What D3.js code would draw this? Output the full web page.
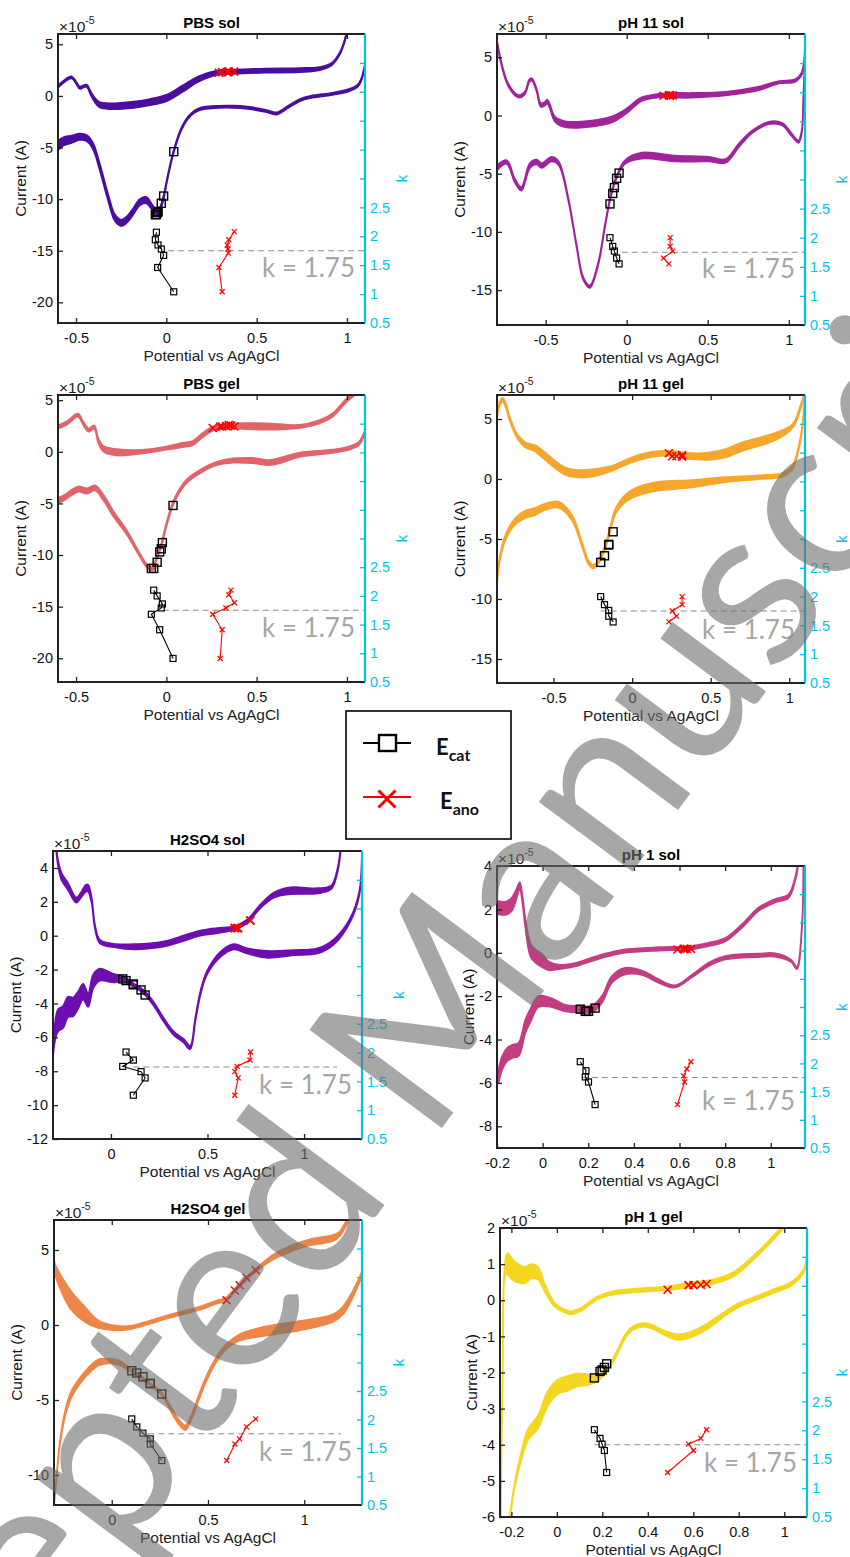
<!DOCTYPE html>
<html>
<head>
<meta charset="utf-8">
<script src="https://cdn.jsdelivr.net/npm/d3@7"></script>
<style>
body { margin: 0; background: #fff; }
svg { display: block; }
text { font-family: "Liberation Sans", Arial, sans-serif; }
</style>
</head>
<body>
<script>
// CV branches: [potential (V), current (x1e-5 A), band spread of the overlaid cycles]
// k series: catE / catK / catI and anoE / anoK / anoI share the same order

// ---- PBS sol
const pbsSolFwd = [[-0.60,0.9,0.2],[-0.56,1.5,0.2],[-0.525,1.8,0.2],[-0.50,1.3,0.2],[-0.48,0.8,0.2],[-0.455,0.95,0.2],[-0.44,0.97,0.2],[-0.42,0.3,0.3],[-0.40,-0.3,0.4],[-0.37,-0.85,0.5],[-0.31,-1.0,0.55],[-0.18,-0.85,0.6],[-0.09,-0.6,0.6],[0,-0.2,0.6],[0.09,0.7,0.6],[0.18,1.65,0.5],[0.28,2.25,0.4],[0.37,2.35,0.4],[0.55,2.45,0.4],[0.74,2.5,0.4],[0.85,2.65,0.3],[0.92,3.15,0.2],[0.96,4.1,0.2],[0.985,5.2,0.2],[1.0,6.2,0.2]];
const pbsSolRev = [[1.10,3.0,0.2],[1.08,1.6,0.2],[1.06,1.0,0.2],[1.01,0.55,0.2],[0.92,0.2,0.2],[0.80,-0.1,0.2],[0.74,-0.4,0.2],[0.68,-1.0,0.2],[0.61,-1.7,0.2],[0.55,-1.45,0.2],[0.45,-1.15,0.2],[0.37,-1.05,0.2],[0.25,-1.1,0.2],[0.18,-1.3,0.2],[0.13,-1.9,0.2],[0.083,-3.2,0.2],[0.041,-5.35,0.2],[0.009,-7.7,0.25],[-0.018,-10.0,0.3],[-0.046,-11.3,0.4],[-0.074,-10.9,0.5],[-0.11,-10.1,0.6],[-0.147,-10.3,0.6],[-0.184,-11.2,0.6],[-0.22,-12.0,0.6],[-0.25,-12.3,0.6],[-0.285,-11.8,0.6],[-0.32,-10.0,0.6],[-0.37,-6.8,0.6],[-0.405,-4.9,0.6],[-0.44,-4.1,0.6],[-0.48,-3.95,0.6],[-0.525,-4.2,0.7],[-0.57,-4.4,0.8],[-0.60,-4.8,0.9]];
const pbsSolCatE = [-0.055,-0.061,-0.046,-0.028,-0.015,-0.048,0.041];
const pbsSolCatK = [2.07,1.94,1.85,1.78,1.67,1.46,1.04];
const pbsSolCatI = [-11.5,-11.5,-11.2,-10.4,-9.7,-11.3,-5.4];
const pbsSolAnoE = [0.376,0.346,0.337,0.341,0.343,0.291,0.309];
const pbsSolAnoK = [2.08,1.94,1.85,1.78,1.71,1.46,1.04];
const pbsSolAnoI = [2.35,2.35,2.3,2.35,2.3,2.25,2.3];
const pbsSolDash = [0.01,1.1];

// ---- pH 11 sol
const ph11SolFwd = [[-0.80,6.3,0.2],[-0.77,4.3,0.2],[-0.73,2.6,0.2],[-0.67,1.65,0.2],[-0.63,1.9,0.2],[-0.60,3.0,0.2],[-0.585,3.1,0.2],[-0.556,2.2,0.2],[-0.53,0.9,0.3],[-0.505,1.0,0.3],[-0.49,1.2,0.3],[-0.474,0.8,0.3],[-0.443,-0.3,0.4],[-0.38,-0.75,0.5],[-0.216,-0.7,0.5],[-0.093,-0.35,0.5],[-0.01,0.3,0.4],[0.093,1.4,0.3],[0.196,1.7,0.3],[0.30,1.73,0.4],[0.40,1.73,0.4],[0.61,1.87,0.3],[0.81,2.3,0.3],[0.94,2.85,0.2],[1.04,3.0,0.2],[1.08,3.6,0.2],[1.10,5.8,0.2]];
const ph11SolRev = [[1.10,4.9,0.2],[1.09,1.5,0.2],[1.08,-1.4,0.2],[1.06,-2.25,0.2],[1.02,-1.7,0.2],[0.96,-0.75,0.2],[0.875,-0.65,0.2],[0.77,-1.45,0.2],[0.69,-2.6,0.3],[0.61,-3.9,0.3],[0.505,-3.75,0.4],[0.30,-3.7,0.5],[0.093,-3.45,0.5],[-0.01,-4.0,0.3],[-0.05,-4.9,0.2],[-0.093,-6.6,0.2],[-0.134,-9.5,0.2],[-0.175,-12.7,0.2],[-0.227,-14.7,0.2],[-0.268,-14.0,0.2],[-0.309,-11.2,0.2],[-0.36,-7.2,0.2],[-0.42,-4.1,0.3],[-0.463,-3.75,0.4],[-0.525,-4.3,0.4],[-0.556,-4.0,0.4],[-0.597,-4.3,0.4],[-0.65,-6.3,0.3],[-0.69,-5.6,0.3],[-0.74,-4.0,0.3],[-0.80,-4.5,0.4]];
const ph11SolCatE = [-0.103,-0.086,-0.076,-0.062,-0.047];
const ph11SolCatK = [2.0,1.85,1.77,1.65,1.55];
const ph11SolCatI = [-7.6,-6.7,-6.2,-5.4,-4.95];
const ph11SolAnoE = [0.268,0.268,0.284,0.227,0.26];
const ph11SolAnoK = [2.0,1.85,1.77,1.65,1.55];
const ph11SolAnoI = [1.73,1.73,1.73,1.7,1.73];
const ph11SolDash = [-0.03,1.1];

// ---- PBS gel
const pbsGelFwd = [[-0.60,2.4,0.3],[-0.55,2.8,0.3],[-0.49,3.55,0.3],[-0.46,2.75,0.3],[-0.43,2.1,0.3],[-0.40,2.4,0.3],[-0.377,1.1,0.4],[-0.35,0.3,0.5],[-0.276,-0.05,0.6],[-0.18,-0.05,0.4],[-0.09,0.1,0.3],[0,0.35,0.3],[0.09,0.65,0.4],[0.147,0.85,0.4],[0.20,1.6,0.4],[0.257,2.25,0.4],[0.31,2.4,0.4],[0.37,2.5,0.5],[0.55,2.45,0.6],[0.735,2.45,0.3],[0.846,2.9,0.3],[0.92,3.55,0.3],[0.99,4.85,0.3],[1.04,5.6,0.3]];
const pbsGelRev = [[1.10,1.95,0.3],[1.066,0.8,0.3],[1.01,0.35,0.3],[0.92,0.05,0.3],[0.735,-0.3,0.4],[0.64,-0.8,0.5],[0.57,-1.05,0.5],[0.478,-0.85,0.5],[0.37,-0.85,0.4],[0.276,-1.15,0.3],[0.184,-1.95,0.3],[0.11,-2.9,0.3],[0.064,-4.05,0.3],[0.033,-5.2,0.3],[0,-7.1,0.3],[-0.028,-9.05,0.3],[-0.055,-10.35,0.3],[-0.074,-11.3,0.3],[-0.10,-11.2,0.3],[-0.147,-10.0,0.3],[-0.22,-7.8,0.4],[-0.294,-6.0,0.5],[-0.35,-4.4,0.5],[-0.395,-3.5,0.5],[-0.44,-3.8,0.5],[-0.487,-3.6,0.5],[-0.533,-4.05,0.5],[-0.57,-4.5,0.5],[-0.60,-4.7,0.5]];
const pbsGelCatE = [-0.07,-0.051,-0.022,-0.028,-0.083,-0.037,0.037];
const pbsGelCatK = [2.1,2.0,1.86,1.79,1.68,1.41,0.91];
const pbsGelCatI = [-11.3,-10.7,-8.8,-9.4,-11.3,-9.7,-5.2];
const pbsGelAnoE = [0.358,0.346,0.377,0.33,0.257,0.309,0.298];
const pbsGelAnoK = [2.1,2.02,1.88,1.79,1.68,1.41,0.91];
const pbsGelAnoI = [2.55,2.6,2.45,2.5,2.3,2.45,2.45];
const pbsGelDash = [-0.02,1.1];

// ---- pH 11 gel
const ph11GelFwd = [[-0.86,5.1,0.3],[-0.845,6.2,0.3],[-0.824,6.6,0.3],[-0.80,6.0,0.3],[-0.786,5.3,0.3],[-0.73,3.55,0.3],[-0.68,2.85,0.4],[-0.616,2.55,0.5],[-0.563,2.0,0.6],[-0.49,1.2,0.6],[-0.425,0.65,0.6],[-0.36,0.45,0.6],[-0.255,0.5,0.6],[-0.127,0.9,0.4],[0,1.6,0.4],[0.127,2.05,0.4],[0.234,2.15,0.4],[0.38,1.9,0.5],[0.488,1.9,0.6],[0.594,2.15,0.7],[0.70,2.7,0.7],[0.913,3.55,0.6],[1.02,4.4,0.3],[1.07,5.9,0.3],[1.10,7.2,0.3]];
const ph11GelRev = [[1.10,6.8,0.3],[1.08,4.0,0.3],[1.06,2.6,0.3],[1.02,0.95,0.3],[0.955,0.35,0.3],[0.807,0.15,0.3],[0.594,-0.05,0.4],[0.38,-0.4,0.6],[0.17,-0.6,0.7],[0.042,-1.0,0.7],[-0.042,-1.6,0.6],[-0.106,-2.7,0.4],[-0.138,-4.1,0.3],[-0.17,-5.6,0.3],[-0.212,-6.85,0.3],[-0.244,-7.3,0.3],[-0.276,-7.0,0.3],[-0.318,-5.5,0.3],[-0.382,-3.25,0.4],[-0.467,-2.15,0.5],[-0.552,-2.3,0.5],[-0.616,-2.7,0.6],[-0.68,-2.95,0.6],[-0.743,-3.5,0.5],[-0.807,-4.9,0.4],[-0.84,-6.5,0.3],[-0.86,-8.5,0.3]];
const ph11GelCatE = [-0.2,-0.176,-0.149,-0.149,-0.121];
const ph11GelCatK = [2.0,1.86,1.76,1.66,1.56];
const ph11GelCatI = [-6.95,-6.4,-5.5,-5.45,-4.4];
const ph11GelAnoE = [0.318,0.318,0.255,0.282,0.234];
const ph11GelAnoK = [2.0,1.86,1.75,1.66,1.56];
const ph11GelAnoI = [2.0,1.85,1.9,1.9,2.15];
const ph11GelDash = [-0.2,1.1];

// ---- H2SO4 sol
const h2so4SolFwd = [[-0.283,5.1,0.2],[-0.274,4.3,0.3],[-0.256,3.5,0.4],[-0.222,2.9,0.4],[-0.18,2.1,0.3],[-0.155,2.4,0.3],[-0.13,2.8,0.4],[-0.118,2.8,0.4],[-0.10,2.1,0.3],[-0.083,0.55,0.2],[-0.057,-0.35,0.2],[0.03,-0.6,0.2],[0.116,-0.65,0.3],[0.203,-0.6,0.3],[0.29,-0.45,0.3],[0.376,-0.15,0.3],[0.463,0.15,0.3],[0.55,0.3,0.3],[0.636,0.45,0.2],[0.705,0.85,0.2],[0.775,1.75,0.2],[0.844,2.4,0.3],[0.93,2.65,0.4],[1.07,2.65,0.3],[1.14,2.85,0.2],[1.17,3.7,0.2],[1.19,5.1,0.2]];
const h2so4SolRev = [[1.30,4.9,0.2],[1.286,2.5,0.2],[1.24,0.95,0.2],[1.156,-0.35,0.3],[1.07,-0.9,0.3],[0.948,-1.0,0.3],[0.81,-1.1,0.4],[0.705,-0.9,0.3],[0.636,-0.65,0.3],[0.567,-1.1,0.3],[0.497,-2.2,0.2],[0.463,-3.4,0.2],[0.437,-4.95,0.2],[0.41,-6.6,0.2],[0.376,-6.2,0.2],[0.324,-5.75,0.2],[0.272,-4.95,0.2],[0.22,-4.0,0.2],[0.168,-3.3,0.2],[0.116,-2.9,0.2],[0.064,-2.55,0.3],[0.012,-2.5,0.5],[-0.057,-2.3,0.7],[-0.092,-2.7,0.8],[-0.118,-3.8,0.8],[-0.144,-3.3,0.9],[-0.17,-3.8,1.0],[-0.196,-4.2,1.1],[-0.222,-4.2,1.2],[-0.248,-4.8,1.3],[-0.274,-5.0,1.3],[-0.29,-5.7,1.0],[-0.30,-6.9,0.5]];
const h2so4SolCatE = [0.078,0.116,0.061,0.156,0.177,0.116];
const h2so4SolCatK = [2.01,1.87,1.76,1.67,1.56,1.26];
const h2so4SolCatI = [-2.65,-2.85,-2.55,-3.2,-3.5,-2.9];
const h2so4SolAnoE = [0.723,0.72,0.653,0.641,0.659,0.641];
const h2so4SolAnoK = [2.01,1.87,1.76,1.67,1.56,1.26];
const h2so4SolAnoI = [0.9,0.9,0.45,0.45,0.45,0.45];
const h2so4SolDash = [0.116,1.17];

// ---- pH 1 sol
const ph1SolFwd = [[-0.20,2.1,0.6],[-0.163,2.05,0.6],[-0.134,2.25,0.6],[-0.112,2.8,0.4],[-0.10,3.1,0.3],[-0.09,2.6,0.3],[-0.076,1.4,0.4],[-0.054,0.15,0.6],[-0.032,-0.15,0.6],[-0.003,-0.35,0.6],[0.026,-0.6,0.4],[0.07,-0.65,0.2],[0.143,-0.55,0.15],[0.216,-0.3,0.15],[0.289,-0.08,0.15],[0.362,0.08,0.15],[0.508,0.18,0.15],[0.654,0.23,0.15],[0.727,0.38,0.15],[0.80,0.6,0.15],[0.873,1.23,0.15],[0.946,2.0,0.15],[1.019,2.4,0.15],[1.077,2.6,0.15],[1.107,3.4,0.15],[1.12,4.1,0.15]];
const ph1SolRev = [[1.143,4.1,0.1],[1.136,1.1,0.1],[1.114,-0.7,0.1],[1.09,-0.38,0.1],[1.019,-0.1,0.15],[0.946,-0.12,0.15],[0.80,-0.23,0.15],[0.727,-0.54,0.15],[0.654,-1.08,0.1],[0.58,-1.55,0.1],[0.508,-1.3,0.15],[0.435,-0.92,0.2],[0.362,-0.85,0.3],[0.304,-1.23,0.3],[0.26,-2.15,0.3],[0.216,-2.6,0.3],[0.172,-2.6,0.3],[0.099,-2.55,0.3],[0.04,-2.3,0.4],[-0.018,-2.25,0.5],[-0.054,-2.9,0.6],[-0.076,-3.4,0.6],[-0.105,-4.45,0.6],[-0.134,-4.55,0.6],[-0.156,-4.7,0.6],[-0.178,-5.1,0.6],[-0.193,-5.7,0.6]];
const ph1SolCatE = [0.165,0.19,0.187,0.201,0.23];
const ph1SolCatK = [2.03,1.87,1.76,1.67,1.27];
const ph1SolCatI = [-2.6,-2.7,-2.7,-2.7,-2.55];
const ph1SolAnoE = [0.65,0.632,0.618,0.622,0.591];
const ph1SolAnoK = [2.03,1.9,1.78,1.67,1.27];
const ph1SolAnoI = [0.18,0.18,0.18,0.18,0.15];
const ph1SolDash = [0.172,1.15];

// ---- H2SO4 gel
const h2so4GelFwd = [[-0.308,5.0,0.3],[-0.296,3.8,0.6],[-0.26,2.7,1.0],[-0.209,1.6,1.2],[-0.139,0.7,1.0],[-0.07,0.05,0.5],[0.017,-0.2,0.3],[0.104,-0.15,0.2],[0.19,0.15,0.2],[0.278,0.5,0.2],[0.365,0.8,0.2],[0.452,1.1,0.2],[0.539,1.5,0.2],[0.59,1.7,0.2],[0.643,2.35,0.2],[0.696,3.05,0.2],[0.748,3.65,0.2],[0.835,4.5,0.3],[0.922,5.05,0.4],[1.026,5.5,0.4],[1.148,5.8,0.4],[1.183,6.05,0.3],[1.226,7.0,0.3],[1.26,8.0,0.3]];
const h2so4GelRev = [[1.296,3.3,0.3],[1.252,2.05,0.4],[1.20,0.95,0.5],[1.148,0.45,0.5],[0.974,-0.05,0.6],[0.80,-0.4,0.6],[0.661,-0.85,0.4],[0.59,-1.5,0.3],[0.539,-2.4,0.3],[0.487,-3.7,0.3],[0.452,-4.85,0.3],[0.417,-6.05,0.3],[0.383,-6.85,0.3],[0.357,-6.6,0.3],[0.322,-5.95,0.3],[0.26,-4.6,0.2],[0.174,-3.7,0.2],[0.104,-3.05,0.2],[0.035,-2.5,0.3],[-0.017,-2.4,0.3],[-0.07,-2.5,0.4],[-0.139,-3.3,0.4],[-0.209,-4.6,0.4],[-0.243,-5.95,0.3],[-0.27,-7.95,0.2],[-0.287,-10.2,0.1],[-0.30,-12.0,0.1]];
const h2so4GelCatE = [0.104,0.13,0.162,0.2,0.2,0.26];
const h2so4GelCatK = [2.01,1.87,1.76,1.66,1.57,1.28];
const h2so4GelCatI = [-3.05,-3.2,-3.45,-3.9,-3.9,-4.6];
const h2so4GelAnoE = [0.748,0.70,0.664,0.64,0.597];
const h2so4GelAnoK = [2.01,1.87,1.66,1.57,1.28];
const h2so4GelAnoI = [3.65,3.15,2.65,2.3,1.65];
const h2so4GelDash = [0.19,1.19];

// ---- pH 1 gel
const ph1GelFwd = [[-0.247,-6.2,0.05],[-0.243,-4.0,0.05],[-0.238,-2.0,0.05],[-0.232,0.6,0.2],[-0.222,1.0,0.5],[-0.215,1.0,0.6],[-0.186,0.8,0.55],[-0.142,0.7,0.45],[-0.113,0.8,0.4],[-0.083,0.75,0.35],[-0.054,0.35,0.2],[-0.01,-0.12,0.1],[0.034,-0.3,0.08],[0.063,-0.35,0.08],[0.107,-0.25,0.08],[0.18,0.07,0.08],[0.253,0.21,0.1],[0.37,0.28,0.1],[0.487,0.33,0.1],[0.589,0.43,0.12],[0.692,0.52,0.12],[0.78,0.73,0.12],[0.882,1.28,0.1],[0.955,1.75,0.1],[1.0,2.05,0.1]];
const ph1GelRev = [[1.10,1.2,0.1],[1.086,0.82,0.1],[1.03,0.45,0.1],[0.955,0.26,0.1],[0.882,0.07,0.1],[0.808,-0.11,0.1],[0.735,-0.39,0.12],[0.662,-0.72,0.15],[0.589,-0.95,0.15],[0.53,-1.02,0.15],[0.472,-0.9,0.12],[0.414,-0.72,0.1],[0.37,-0.69,0.1],[0.326,-0.81,0.1],[0.297,-1.04,0.1],[0.26,-1.51,0.1],[0.224,-1.88,0.1],[0.18,-2.16,0.15],[0.136,-2.2,0.3],[0.092,-2.2,0.35],[0.048,-2.3,0.4],[0.004,-2.4,0.4],[-0.04,-2.72,0.4],[-0.083,-3.37,0.35],[-0.127,-3.72,0.3],[-0.156,-4.3,0.2],[-0.186,-5.13,0.1],[-0.208,-6.1,0.1]];
const ph1GelCatE = [0.165,0.19,0.199,0.209,0.219];
const ph1GelCatK = [2.01,1.86,1.76,1.65,1.27];
const ph1GelCatI = [-2.15,-1.97,-1.93,-1.86,-1.76];
const ph1GelAnoE = [0.658,0.633,0.579,0.601,0.487];
const ph1GelAnoK = [2.01,1.86,1.76,1.65,1.27];
const ph1GelAnoI = [0.45,0.43,0.42,0.42,0.29];
const ph1GelDash = [0.165,1.1];

const kTicks = [0.5,1,1.5,2,2.5,3,3.5,4,4.5,5];
const kRef = 1.75;
const watermarkText = "Accepted Manuscript";

const cyan = "#00c3e6";

const panels = [
  {title:"PBS sol", color:"#4b0d9e", box:[58,34,365,323], xd:[-0.6,1.1], yd:[-22,6], xt:[-0.5,0,0.5,1], yt:[5,0,-5,-10,-15,-20],
   fwd:pbsSolFwd, rev:pbsSolRev, catE:pbsSolCatE, catK:pbsSolCatK, catI:pbsSolCatI, anoE:pbsSolAnoE, anoK:pbsSolAnoK, anoI:pbsSolAnoI, dash:pbsSolDash, kTxt:1.3},
  {title:"pH 11 sol", color:"#a0239c", box:[497,34,805,325], xd:[-0.8,1.1], yd:[-18,7], xt:[-0.5,0,0.5,1], yt:[5,0,-5,-10,-15],
   fwd:ph11SolFwd, rev:ph11SolRev, catE:ph11SolCatE, catK:ph11SolCatK, catI:ph11SolCatI, anoE:ph11SolAnoE, anoK:ph11SolAnoK, anoI:ph11SolAnoI, dash:ph11SolDash, kTxt:1.3},
  {title:"PBS gel", color:"#e0646a", box:[58,395,365,682], xd:[-0.6,1.1], yd:[-22.3,5.5], xt:[-0.5,0,0.5,1], yt:[5,0,-5,-10,-15,-20],
   fwd:pbsGelFwd, rev:pbsGelRev, catE:pbsGelCatE, catK:pbsGelCatK, catI:pbsGelCatI, anoE:pbsGelAnoE, anoK:pbsGelAnoK, anoI:pbsGelAnoI, dash:pbsGelDash, kTxt:1.28},
  {title:"pH 11 gel", color:"#f7a62d", box:[497,395,805,683], xd:[-0.86,1.1], yd:[-17,7], xt:[-0.5,0,0.5,1], yt:[5,0,-5,-10,-15],
   fwd:ph11GelFwd, rev:ph11GelRev, catE:ph11GelCatE, catK:ph11GelCatK, catI:ph11GelCatI, anoE:ph11GelAnoE, anoK:ph11GelAnoK, anoI:ph11GelAnoI, dash:ph11GelDash, kTxt:1.26},
  {title:"H2SO4 sol", color:"#6e0eb0", box:[53,851,362,1139], xd:[-0.3,1.3], yd:[-12,5], xt:[0,0.5,1], yt:[4,2,0,-2,-4,-6,-8,-10,-12],
   fwd:h2so4SolFwd, rev:h2so4SolRev, catE:h2so4SolCatE, catK:h2so4SolCatK, catI:h2so4SolCatI, anoE:h2so4SolAnoE, anoK:h2so4SolAnoK, anoI:h2so4SolAnoI, dash:h2so4SolDash, kTxt:1.28},
  {title:"pH 1 sol", color:"#c33d82", box:[497,866,805,1148], xd:[-0.2,1.15], yd:[-9,4], xt:[-0.2,0,0.2,0.4,0.6,0.8,1], yt:[4,2,0,-2,-4,-6,-8],
   fwd:ph1SolFwd, rev:ph1SolRev, catE:ph1SolCatE, catK:ph1SolCatK, catI:ph1SolCatI, anoE:ph1SolAnoE, anoK:ph1SolAnoK, anoI:ph1SolAnoI, dash:ph1SolDash, kTxt:1.17},
  {title:"H2SO4 gel", color:"#ef8548", box:[54,1220,362,1505], xd:[-0.3,1.3], yd:[-12,7], xt:[0,0.5,1], yt:[5,0,-5,-10],
   fwd:h2so4GelFwd, rev:h2so4GelRev, catE:h2so4GelCatE, catK:h2so4GelCatK, catI:h2so4GelCatI, anoE:h2so4GelAnoE, anoK:h2so4GelAnoK, anoI:h2so4GelAnoI, dash:h2so4GelDash, kTxt:1.28},
  {title:"pH 1 gel", color:"#f5d722", box:[500,1228,807,1517], xd:[-0.25,1.1], yd:[-6,2], xt:[-0.2,0,0.2,0.4,0.6,0.8,1], yt:[2,1,0,-1,-2,-3,-4,-5,-6],
   fwd:ph1GelFwd, rev:ph1GelRev, catE:ph1GelCatE, catK:ph1GelCatK, catI:ph1GelCatI, anoE:ph1GelAnoE, anoK:ph1GelAnoK, anoI:ph1GelAnoI, dash:ph1GelDash, kTxt:1.28}
];

const W = 850, H = 1557;
const svg = d3.select("body").append("svg").attr("width", W).attr("height", H);

function square(g, cx, cy, s, sw) {
  g.append("rect").attr("x", cx - s/2).attr("y", cy - s/2).attr("width", s).attr("height", s)
    .attr("fill", "none").attr("stroke", "#000").attr("stroke-width", sw);
}
function cross(g, cx, cy, s, sw, col) {
  const h = s/2;
  g.append("path").attr("d", `M${cx-h},${cy-h}L${cx+h},${cy+h}M${cx-h},${cy+h}L${cx+h},${cy-h}`)
    .attr("stroke", col || "#f00").attr("stroke-width", sw).attr("fill", "none");
}

function drawPanel(p, i) {
  const [L, T, R, B] = p.box;
  const x = d3.scaleLinear().domain(p.xd).range([L, R]);
  const y = d3.scaleLinear().domain(p.yd).range([B, T]);
  const k = d3.scaleLinear().domain([0.5, 5.5]).range([B, T]);
  const g = svg.append("g");

  g.append("clipPath").attr("id", "clip" + i)
    .append("rect").attr("x", L).attr("y", T).attr("width", R - L).attr("height", B - T);

  // CV branches as bands
  const band = d3.area()
    .x(d => x(d[0]))
    .y0(d => y(d[1] - d[2]/2))
    .y1(d => y(d[1] + d[2]/2))
    .curve(d3.curveCatmullRom);
  const cv = g.append("g").attr("clip-path", `url(#clip${i})`);
  [p.fwd, p.rev].forEach(branch => {
    cv.append("path").datum(branch).attr("d", band)
      .attr("fill", p.color).attr("stroke", p.color)
      .attr("stroke-width", 1.8).attr("stroke-linejoin", "round");
  });

  // markers on the CV
  p.catE.forEach((e, j) => square(g, x(e), y(p.catI[j]), 8, 1.4));
  p.anoE.forEach((e, j) => cross(g, x(e), y(p.anoI[j]), 8, 1.6));

  // k reference line
  g.append("line").attr("x1", x(p.dash[0])).attr("x2", x(p.dash[1]))
    .attr("y1", k(kRef)).attr("y2", k(kRef))
    .attr("stroke", "#8c8c8c").attr("stroke-width", 1.2).attr("stroke-dasharray", "6,4");

  // k series
  const kl = d3.line().x(d => x(d[0])).y(d => k(d[1]));
  g.append("path").datum(p.catE.map((e, j) => [e, p.catK[j]])).attr("d", kl)
    .attr("fill", "none").attr("stroke", "#000").attr("stroke-width", 1.1);
  g.append("path").datum(p.anoE.map((e, j) => [e, p.anoK[j]])).attr("d", kl)
    .attr("fill", "none").attr("stroke", "#f00").attr("stroke-width", 1.1);
  p.catE.forEach((e, j) => square(g, x(e), k(p.catK[j]), 6, 1.2));
  p.anoE.forEach((e, j) => cross(g, x(e), k(p.anoK[j]), 5, 1.2));

  g.append("text").attr("x", R - 10).attr("y", k(p.kTxt))
    .attr("text-anchor", "end").attr("fill", "#a6a6a6")
    .style("font-family", "Lato, 'Open Sans', sans-serif").style("font-size", "26px")
    .text("k = " + kRef);

  // axes
  const fmt = d => String(d);
  const ax = g.append("g");
  const yl = ax.append("g").attr("transform", `translate(${L},0)`)
    .call(d3.axisLeft(y).tickValues(p.yt).tickSize(-5).tickPadding(5).tickFormat(fmt));
  ax.append("g").attr("transform", `translate(0,${B})`)
    .call(d3.axisBottom(x).tickValues(p.xt).tickSize(-5).tickPadding(10).tickFormat(fmt));
  ax.append("g").attr("transform", `translate(0,${T})`)
    .call(d3.axisTop(x).tickValues(p.xt).tickSize(-5).tickFormat(""));
  const kr = ax.append("g").attr("transform", `translate(${R},0)`)
    .call(d3.axisRight(k).tickValues(kTicks).tickSize(-5).tickPadding(5)
      .tickFormat(d => d <= 2.5 ? String(d) : ""));
  ax.selectAll(".domain").remove();
  ax.selectAll(".tick line").attr("stroke", "#222").attr("stroke-width", 1.3);
  ax.selectAll(".tick text").attr("fill", "#111")
    .style("font-family", "'Liberation Sans', Arial, sans-serif").style("font-size", "14.5px");
  kr.selectAll(".tick line").attr("stroke", cyan);
  kr.selectAll(".tick text").attr("fill", cyan);

  // box
  g.append("path").attr("d", `M${R},${T}H${L}V${B}H${R}`)
    .attr("fill", "none").attr("stroke", "#222").attr("stroke-width", 2);
  g.append("line").attr("x1", R).attr("x2", R).attr("y1", T).attr("y2", B)
    .attr("stroke", cyan).attr("stroke-width", 2.2);

  // labels
  let maxW = 0;
  yl.selectAll(".tick text").each(function() { maxW = Math.max(maxW, this.getComputedTextLength()); });
  g.append("text").attr("transform", `translate(${L - 5 - maxW - 11},${(T + B)/2}) rotate(-90)`)
    .attr("dy", "0.35em").attr("text-anchor", "middle").style("font-size", "15.5px").attr("fill", "#111")
    .text("Current (A)");
  g.append("text").attr("transform", `translate(${Math.min(R + 37, 842)},${(T + B)/2}) rotate(-90)`)
    .attr("dy", "0.35em").attr("text-anchor", "middle").style("font-size", "15.5px").attr("fill", cyan)
    .text("k");
  g.append("text").attr("x", (L + R)/2).attr("y", B + 38).attr("text-anchor", "middle")
    .style("font-size", "15.5px").attr("fill", "#222").text("Potential vs AgAgCl");
  g.append("text").attr("x", (L + R)/2).attr("y", T - 6).attr("text-anchor", "middle")
    .style("font-size", "15px").style("font-weight", "bold").attr("fill", "#000").text(p.title);
  const mult = g.append("text").attr("x", L + 1).attr("y", T - 2).style("font-size", "15.5px").attr("fill", "#222");
  mult.append("tspan").text("\u00d710");
  mult.append("tspan").attr("dy", -8).style("font-size", "10.5px").text("-5");
}

panels.forEach(drawPanel);

// legend
const leg = svg.append("g");
leg.append("rect").attr("x", 346).attr("y", 711).attr("width", 165).attr("height", 128)
  .attr("fill", "#fff").attr("stroke", "#000").attr("stroke-width", 1.6);
leg.append("line").attr("x1", 363).attr("x2", 411).attr("y1", 743).attr("y2", 743).attr("stroke", "#000").attr("stroke-width", 2.2);
leg.append("rect").attr("x", 379).attr("y", 735).attr("width", 17).attr("height", 16).attr("fill", "#fff").attr("stroke", "#000").attr("stroke-width", 2.4);
leg.append("line").attr("x1", 363).attr("x2", 411).attr("y1", 797).attr("y2", 797).attr("stroke", "#f00").attr("stroke-width", 2.2);
cross(leg, 387, 799, 17, 3);
const legFont = "Lato, 'Open Sans', sans-serif";
const t1 = leg.append("text").attr("x", 436).attr("y", 755).style("font-family", legFont).style("font-weight", "bold").style("font-size", "22px").attr("fill", "#111");
t1.append("tspan").text("E");
t1.append("tspan").attr("dy", 6).style("font-size", "16px").text("cat");
const t2 = leg.append("text").attr("x", 440).attr("y", 809).style("font-family", legFont).style("font-weight", "bold").style("font-size", "22px").attr("fill", "#111");
t2.append("tspan").text("E");
t2.append("tspan").attr("dy", 6).style("font-size", "16px").text("ano");

// watermark: placed so the second "e" and the dot of the "i" land where they sit in the picture
const F = 230;
const wm = svg.append("text").attr("x", 0).attr("y", 0)
  .style("font-family", "Lato, 'Open Sans', sans-serif").style("font-size", F + "px")
  .attr("fill", "#6e6e6e").attr("opacity", 0.6)
  .text(watermarkText);
const wn = wm.node();
const midX = j => (wn.getStartPositionOfChar(j).x + wn.getEndPositionOfChar(j).x) / 2;
const iPos = watermarkText.indexOf("i");
const P1 = [midX(6), -0.25 * F], P2 = [midX(iPos), -0.70 * F];
const Q1 = [235, 1310], Q2 = [838, 325];
const ang = Math.atan2(Q2[1] - Q1[1], Q2[0] - Q1[0]) - Math.atan2(P2[1] - P1[1], P2[0] - P1[0]);
const sc = Math.hypot(Q2[0] - Q1[0], Q2[1] - Q1[1]) / Math.hypot(P2[0] - P1[0], P2[1] - P1[1]);
const c = Math.cos(ang), s = Math.sin(ang);
const tx = Q1[0] - sc * (c * P1[0] - s * P1[1]);
const ty = Q1[1] - sc * (s * P1[0] + c * P1[1]);
wm.attr("transform", `translate(${tx},${ty}) rotate(${ang * 180 / Math.PI}) scale(${sc})`);
</script>
</body>
</html>
